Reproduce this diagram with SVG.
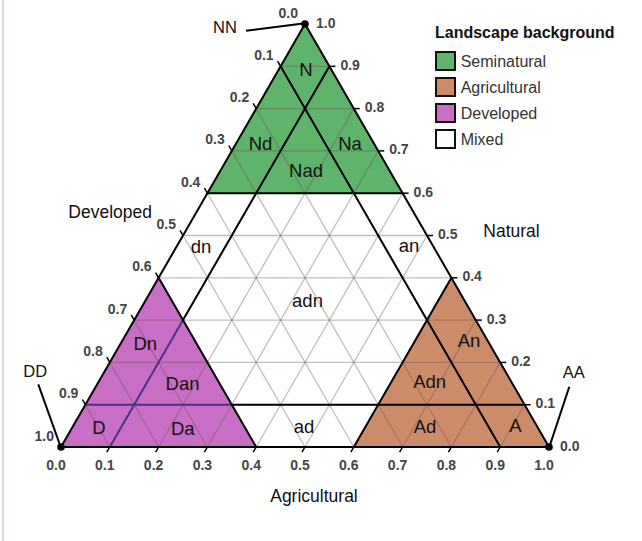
<svg xmlns="http://www.w3.org/2000/svg" width="642" height="541" viewBox="0 0 642 541">
<style>
text{font-family:"Liberation Sans",Arial,sans-serif;}
.grid line{stroke:#6b4b4b;stroke-opacity:0.38;stroke-width:1.3;}
.thick{stroke:#000;stroke-width:2;fill:none;stroke-linecap:round;}
.purp{stroke:#52308a;stroke-width:2;fill:none;}
.tick{stroke:#000;stroke-width:1.5;}
.tl{font-size:14px;fill:#454545;font-weight:bold;}
.tl-l{text-anchor:end;}
.tl-b{text-anchor:middle;}
.rl{font-size:18.5px;fill:#111;text-anchor:middle;}
.ax{font-size:17.5px;fill:#111;}
.corner{font-size:16.5px;fill:#111;}
.leg{font-size:16px;fill:#333;}
.box{stroke:#111;stroke-width:2;}
.lead{stroke:#000;stroke-width:2;fill:none;}
</style>
<rect width="642" height="541" fill="#fff"/>
<line x1="3" y1="0" x2="3" y2="541" stroke="#bcd9bc" stroke-width="1.5"/>

<g id="regions">
<polygon id="seminatural" points="305,24 207.4,193.2 402.6,193.2" fill="#5fb46b"/>
<polygon id="developed" points="61,447 158.6,277.8 256.2,447" fill="#c86ec4"/>
<polygon id="agricultural" points="353.8,447 451.4,277.8 549,447" fill="#cd8c69"/>
</g>

<g id="grid" class="grid">
<line x1="85.4" y1="404.7" x2="524.6" y2="404.7"/>
<line x1="109.8" y1="362.4" x2="500.2" y2="362.4"/>
<line x1="134.2" y1="320.1" x2="475.8" y2="320.1"/>
<line x1="158.6" y1="277.8" x2="451.4" y2="277.8"/>
<line x1="183" y1="235.5" x2="427" y2="235.5"/>
<line x1="207.4" y1="193.2" x2="402.6" y2="193.2"/>
<line x1="231.8" y1="150.9" x2="378.2" y2="150.9"/>
<line x1="256.2" y1="108.6" x2="353.8" y2="108.6"/>
<line x1="280.6" y1="66.3" x2="329.4" y2="66.3"/>
<line x1="109.8" y1="447" x2="329.4" y2="66.3"/>
<line x1="158.6" y1="447" x2="353.8" y2="108.6"/>
<line x1="207.4" y1="447" x2="378.2" y2="150.9"/>
<line x1="256.2" y1="447" x2="402.6" y2="193.2"/>
<line x1="305" y1="447" x2="427" y2="235.5"/>
<line x1="353.8" y1="447" x2="451.4" y2="277.8"/>
<line x1="402.6" y1="447" x2="475.8" y2="320.1"/>
<line x1="451.4" y1="447" x2="500.2" y2="362.4"/>
<line x1="500.2" y1="447" x2="524.6" y2="404.7"/>
<line x1="500.2" y1="447" x2="280.6" y2="66.3"/>
<line x1="451.4" y1="447" x2="256.2" y2="108.6"/>
<line x1="402.6" y1="447" x2="231.8" y2="150.9"/>
<line x1="353.8" y1="447" x2="207.4" y2="193.2"/>
<line x1="305" y1="447" x2="183" y2="235.5"/>
<line x1="256.2" y1="447" x2="158.6" y2="277.8"/>
<line x1="207.4" y1="447" x2="134.2" y2="320.1"/>
<line x1="158.6" y1="447" x2="109.8" y2="362.4"/>
<line x1="109.8" y1="447" x2="85.4" y2="404.7"/>
</g>

<g id="boundaries">
<line class="thick" x1="231.8" y1="404.7" x2="524.6" y2="404.7"/>
<line class="purp" x1="85.4" y1="404.7" x2="231.8" y2="404.7"/>
<line class="purp" x1="109.8" y1="447" x2="183" y2="320.1"/>
<line class="thick" x1="183" y1="320.1" x2="329.4" y2="66.3"/>
<line class="thick" x1="280.6" y1="66.3" x2="500.2" y2="447"/>
<line class="thick" x1="207.4" y1="193.2" x2="402.6" y2="193.2"/>
<line class="thick" x1="158.6" y1="277.8" x2="256.2" y2="447"/>
<line class="thick" x1="353.8" y1="447" x2="451.4" y2="277.8"/>
<polygon class="thick" points="305,24 61,447 549,447" stroke-linejoin="round"/>
</g>

<g id="ticks" class="tick">
<line x1="280.6" y1="66.3" x2="277.6" y2="61.1"/>
<line x1="256.2" y1="108.6" x2="253.2" y2="103.4"/>
<line x1="231.8" y1="150.9" x2="228.8" y2="145.7"/>
<line x1="207.4" y1="193.2" x2="204.4" y2="188"/>
<line x1="183" y1="235.5" x2="180" y2="230.3"/>
<line x1="158.6" y1="277.8" x2="155.6" y2="272.6"/>
<line x1="134.2" y1="320.1" x2="131.2" y2="314.9"/>
<line x1="109.8" y1="362.4" x2="106.8" y2="357.2"/>
<line x1="85.4" y1="404.7" x2="82.4" y2="399.5"/>
<line x1="329.4" y1="66.3" x2="335.4" y2="66.3"/>
<line x1="353.8" y1="108.6" x2="359.8" y2="108.6"/>
<line x1="378.2" y1="150.9" x2="384.2" y2="150.9"/>
<line x1="402.6" y1="193.2" x2="408.6" y2="193.2"/>
<line x1="427" y1="235.5" x2="433" y2="235.5"/>
<line x1="451.4" y1="277.8" x2="457.4" y2="277.8"/>
<line x1="475.8" y1="320.1" x2="481.8" y2="320.1"/>
<line x1="500.2" y1="362.4" x2="506.2" y2="362.4"/>
<line x1="524.6" y1="404.7" x2="530.6" y2="404.7"/>
<line x1="109.8" y1="447" x2="106.8" y2="452.2"/>
<line x1="158.6" y1="447" x2="155.6" y2="452.2"/>
<line x1="207.4" y1="447" x2="204.4" y2="452.2"/>
<line x1="256.2" y1="447" x2="253.2" y2="452.2"/>
<line x1="305" y1="447" x2="302" y2="452.2"/>
<line x1="353.8" y1="447" x2="350.8" y2="452.2"/>
<line x1="402.6" y1="447" x2="399.6" y2="452.2"/>
<line x1="451.4" y1="447" x2="448.4" y2="452.2"/>
<line x1="500.2" y1="447" x2="497.2" y2="452.2"/>
</g>

<g id="tick-labels-developed" class="tl tl-l">
<text x="298" y="17.5">0.0</text>
<text x="273.6" y="59.8">0.1</text>
<text x="249.2" y="102.1">0.2</text>
<text x="224.8" y="144.4">0.3</text>
<text x="200.4" y="186.7">0.4</text>
<text x="176" y="229">0.5</text>
<text x="151.6" y="271.3">0.6</text>
<text x="127.2" y="313.6">0.7</text>
<text x="102.8" y="355.9">0.8</text>
<text x="78.4" y="398.2">0.9</text>
<text x="54" y="440.5">1.0</text>
</g>
<g id="tick-labels-natural" class="tl">
<text x="316" y="27.5">1.0</text>
<text x="340.4" y="69.8">0.9</text>
<text x="364.8" y="112.1">0.8</text>
<text x="389.2" y="154.4">0.7</text>
<text x="413.6" y="196.7">0.6</text>
<text x="438" y="239">0.5</text>
<text x="462.4" y="281.3">0.4</text>
<text x="486.8" y="323.6">0.3</text>
<text x="511.2" y="365.9">0.2</text>
<text x="535.6" y="408.2">0.1</text>
<text x="560" y="450.5">0.0</text>
</g>
<g id="tick-labels-agricultural" class="tl tl-b">
<text x="56" y="470">0.0</text>
<text x="104.8" y="470">0.1</text>
<text x="153.6" y="470">0.2</text>
<text x="202.4" y="470">0.3</text>
<text x="251.2" y="470">0.4</text>
<text x="300" y="470">0.5</text>
<text x="348.8" y="470">0.6</text>
<text x="397.6" y="470">0.7</text>
<text x="446.4" y="470">0.8</text>
<text x="495.2" y="470">0.9</text>
<text x="544" y="470">1.0</text>
</g>

<g id="region-labels" class="rl">
<text x="306" y="76">N</text>
<text x="260.5" y="150">Nd</text>
<text x="350" y="150">Na</text>
<text x="306" y="176.5">Nad</text>
<text x="201" y="252.5">dn</text>
<text x="409" y="251.7">an</text>
<text x="307.5" y="306.7">adn</text>
<text x="145.3" y="350">Dn</text>
<text x="182.5" y="390">Dan</text>
<text x="99" y="433.5">D</text>
<text x="182.8" y="435">Da</text>
<text x="304" y="433.3">ad</text>
<text x="469" y="346.7">An</text>
<text x="429.7" y="388.3">Adn</text>
<text x="425" y="433.3">Ad</text>
<text x="515.5" y="432">A</text>
</g>

<g id="axis-titles" class="ax">
<text x="68.3" y="218.3">Developed</text>
<text x="483.3" y="236.7">Natural</text>
<text x="314" y="501.7" text-anchor="middle">Agricultural</text>
</g>

<g id="connectors">
<line class="lead" x1="246" y1="30.7" x2="303" y2="23.5"/>
<line class="lead" x1="38.3" y1="384.3" x2="60" y2="445"/>
<line class="lead" x1="569.3" y1="386.7" x2="550" y2="445"/>
</g>
<g id="node-NN"><circle cx="305" cy="24" r="3.8" fill="#000"/><text class="corner" x="213" y="33.3">NN</text></g>
<g id="node-DD"><circle cx="61" cy="447" r="3.8" fill="#000"/><text class="corner" x="23.3" y="376.7">DD</text></g>
<g id="node-AA"><circle cx="549" cy="447" r="3.8" fill="#000"/><text class="corner" x="562.7" y="378.3">AA</text></g>

<g id="legend">
<text x="435" y="38.3" font-size="16" font-weight="bold" fill="#111">Landscape background</text>
<g id="legend-seminatural"><rect class="box" x="436" y="52" width="19" height="18" fill="#5fb46b"/><text class="leg" x="460.7" y="67">Seminatural</text></g>
<g id="legend-agricultural"><rect class="box" x="436" y="78" width="19" height="18" fill="#cd8c69"/><text class="leg" x="460.7" y="93">Agricultural</text></g>
<g id="legend-developed"><rect class="box" x="436" y="104" width="19" height="18" fill="#c86ec4"/><text class="leg" x="460.7" y="119">Developed</text></g>
<g id="legend-mixed"><rect class="box" x="436" y="130" width="19" height="18" fill="#fff"/><text class="leg" x="460.7" y="145">Mixed</text></g>
</g>
</svg>
